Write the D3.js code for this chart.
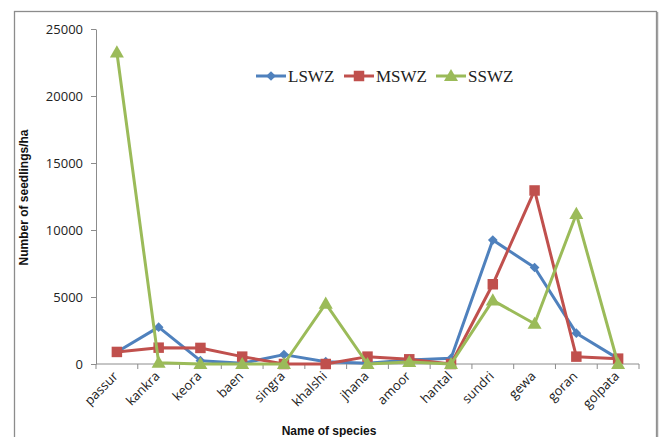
<!DOCTYPE html>
<html>
<head>
<meta charset="utf-8">
<script src="https://cdn.jsdelivr.net/npm/d3@7"></script>
<style>
  body { margin: 0; background: #fff; }
  svg { display: block; }
</style>
</head>
<body>
<svg id="canvas" width="664" height="437"></svg>
<script>
const svg = d3.select("#canvas");
const width = 664;
const height = 437;

const species = ["passur", "kankra", "keora", "baen", "singra", "khalshi", "jhana",
    "amoor", "hantal", "sundri", "gewa", "goran", "golpata"];
const lswz = [900, 2750, 250, 50, 700, 170, 50, 300, 420, 9250, 7200, 2300, 400];
const mswz = [900, 1220, 1200, 550, 0, 0, 550, 350, 0, 5950, 12950, 550, 400];
const sswz = [23250, 100, 0, 0, 0, 4500, 0, 150, 0, 4750, 3000, 11200, 0];
const yTicks = [0, 5000, 10000, 15000, 20000, 25000];

const series = [
    { name: "LSWZ", values: lswz, color: "#4F81BD", marker: "diamond" },
    { name: "MSWZ", values: mswz, color: "#C0504D", marker: "square" },
    { name: "SSWZ", values: sswz, color: "#9BBB59", marker: "triangle" }
];

const margin = { left: 96, right: 25, top: 29, bottom: 73 };

// chart border
svg.append("rect")
    .attr("x", 14.5)
    .attr("y", 11.5)
    .attr("width", 642)
    .attr("height", 440)
    .attr("fill", "none")
    .attr("stroke", "#8c8c8c")
    .attr("stroke-width", 1.3);
svg.append("line")
    .attr("x1", 657.5).attr("x2", 657.5)
    .attr("y1", 12).attr("y2", height)
    .attr("stroke", "#a0a0a0")
    .attr("stroke-width", 1.5);

const x = d3.scaleBand()
    .domain(species)
    .range([margin.left, width - margin.right]);

const y = d3.scaleLinear()
    .domain([0, 25000])
    .range([height - margin.bottom, margin.top]);

// y axis
const yAxis = svg.append("g")
    .attr("transform", `translate(${margin.left},0)`)
    .call(d3.axisLeft(y).tickValues(yTicks).tickFormat(d3.format("d"))
        .tickSize(5).tickSizeOuter(0).tickPadding(8));
yAxis.select(".domain").attr("stroke", "#8c8c8c");
yAxis.selectAll(".tick line").attr("stroke", "#8c8c8c");
yAxis.selectAll(".tick text")
    .attr("font-family", "'Open Sans', 'Liberation Sans', sans-serif")
    .attr("font-size", "13px")
    .attr("fill", "#222");

// x axis: ticks sit at the band boundaries
const xAxisY = y(0);
const xg = svg.append("g");
xg.append("line")
    .attr("x1", margin.left).attr("x2", width - margin.right)
    .attr("y1", xAxisY).attr("y2", xAxisY)
    .attr("stroke", "#8c8c8c");
const bounds = species.map(d => x(d)).concat([width - margin.right]);
bounds.forEach(b => {
    xg.append("line")
        .attr("x1", b).attr("x2", b)
        .attr("y1", xAxisY).attr("y2", xAxisY + 5)
        .attr("stroke", "#8c8c8c");
});
species.forEach(s => {
    const cx = x(s) + x.bandwidth() / 2;
    xg.append("text")
        .attr("transform", `translate(${cx + 2},${xAxisY + 13}) rotate(-45)`)
        .attr("text-anchor", "end")
        .attr("font-family", "'Open Sans', 'Liberation Sans', sans-serif")
        .attr("font-size", "13px")
        .attr("fill", "#222")
        .text(s);
});

// axis titles
svg.append("text")
    .attr("transform", `translate(28,${(margin.top + xAxisY) / 2 + 1}) rotate(-90)`)
    .attr("text-anchor", "middle")
    .attr("font-family", "'Liberation Sans', Arial, sans-serif")
    .attr("font-weight", "bold")
    .attr("font-size", "12px")
    .attr("fill", "#111")
    .text("Number of seedlings/ha");

svg.append("text")
    .attr("x", 329)
    .attr("y", 435)
    .attr("text-anchor", "middle")
    .attr("font-family", "'Liberation Sans', Arial, sans-serif")
    .attr("font-weight", "bold")
    .attr("font-size", "12px")
    .attr("fill", "#111")
    .text("Name of species");

const px = (d, i) => x(species[i]) + x.bandwidth() / 2;

function markerPath(type) {
    if (type === "diamond") return d3.symbol().type(d3.symbolDiamond2).size(60)();
    if (type === "square") return d3.symbol().type(d3.symbolSquare).size(110)();
    return d3.symbol().type(d3.symbolTriangle).size(85)();
}

const line = d3.line()
    .x(px)
    .y(d => y(d));

series.forEach(s => {
    svg.append("path")
        .datum(s.values)
        .attr("d", line)
        .attr("fill", "none")
        .attr("stroke", s.color)
        .attr("stroke-width", 3)
        .attr("stroke-linejoin", "round");

    svg.selectAll(null)
        .data(s.values)
        .enter()
        .append("path")
        .attr("d", markerPath(s.marker))
        .attr("transform", (d, i) => `translate(${px(d, i)},${y(d) + (s.marker === "triangle" ? 1 : 0)})`)
        .attr("fill", s.color);
});

// legend
const legendX = [256, 344, 436];
const legendY = 76;
series.forEach((s, i) => {
    const g = svg.append("g").attr("transform", `translate(${legendX[i]},${legendY})`);
    g.append("line")
        .attr("x1", 0).attr("x2", 30)
        .attr("y1", 0).attr("y2", 0)
        .attr("stroke", s.color)
        .attr("stroke-width", 3);
    g.append("path")
        .attr("d", markerPath(s.marker))
        .attr("transform", `translate(15,${s.marker === "triangle" ? 1 : 0})`)
        .attr("fill", s.color);
    g.append("text")
        .attr("x", 32)
        .attr("y", 6)
        .attr("font-family", "'Liberation Serif', 'Times New Roman', serif")
        .attr("font-size", "17px")
        .attr("fill", "#222")
        .text(s.name);
});
</script>
</body>
</html>
